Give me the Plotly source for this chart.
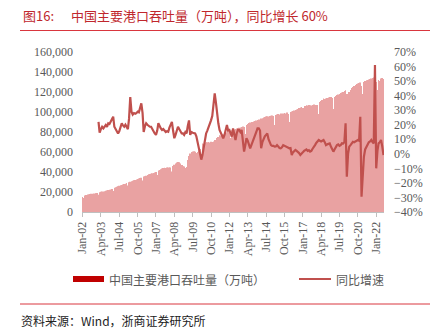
import plotly.graph_objects as go
import pandas as pd

# ---------------- data ----------------
months = pd.date_range("2002-01-01", "2022-07-01", freq="MS")
yoy_months = pd.date_range("2003-02-01", "2022-07-01", freq="MS")
tick_months = months[::15]

# 中国主要港口吞吐量（万吨）, monthly
throughput = [
    15000, 14000, 16500, 17000, 17500, 17800, 18000, 18200, 18300, 18500, 18400, 18800,   # 2002
    19000, 17200, 19800, 20200, 20400, 20600, 20800, 21200, 21500, 22000, 22200, 22600,   # 2003
    23000, 21000, 24200, 24800, 25200, 25800, 26300, 26700, 27000, 27600, 27900, 28300,   # 2004
    29000, 26500, 29800, 30300, 30800, 31200, 31700, 32000, 32500, 33000, 33400, 34000,   # 2005
    34200, 31500, 35500, 35800, 36300, 37000, 37700, 38000, 38300, 38800, 39000, 39500,   # 2006
    40000, 37000, 41500, 42000, 42800, 43500, 44000, 44200, 44000, 44500, 44400, 44800,   # 2007
    44400, 40500, 46000, 47200, 48500, 49500, 50000, 49800, 48500, 47000, 45700, 45500,   # 2008
    44000, 45000, 52000, 56000, 58500, 60000, 60500, 60700, 60300, 59000, 60000, 61500,   # 2009
    63000, 58000, 68400, 68000, 69000, 69500, 69800, 70000, 69500, 70200, 70000, 70500,   # 2010
    72000, 66000, 74000, 75000, 76700, 76500, 77000, 77500, 78000, 79000, 79500, 80000,   # 2011
    80500, 74000, 81700, 82000, 82500, 83000, 83500, 84000, 84200, 84500, 85000, 85500,   # 2012
    85000, 78000, 87000, 88000, 89000, 89500, 90000, 90000, 90500, 91000, 91500, 92000,   # 2013
    92500, 84000, 93400, 93800, 94500, 95000, 95500, 95700, 95500, 96000, 96200, 96500,   # 2014
    96000, 87000, 97000, 97500, 98000, 97500, 98400, 98000, 98400, 99000, 98500, 99500,   # 2015
    98000, 90000, 100000, 100500, 101000, 101500, 102000, 102500, 103000, 104000, 104500, 105000,  # 2016
    104000, 95000, 106000, 106700, 106500, 107000, 106700, 106500, 107000, 107500, 106700, 107000,  # 2017
    107000, 98000, 110000, 111000, 112000, 113400, 113000, 113500, 114000, 114500, 115000, 115000,  # 2018
    114000, 103000, 115000, 116000, 117000, 117500, 118000, 119000, 119500, 120000, 121000, 121700,  # 2019
    118000, 100000, 120000, 122000, 124000, 125000, 126000, 127000, 128000, 128400, 129000, 129500,  # 2020
    126000, 118000, 130000, 131000, 131700, 132000, 132500, 133000, 133400, 134000, 134500, 135000,  # 2021
    130000, 122000, 132000, 131000, 133500, 134000, 133000,                                        # 2022
]

# 同比增速 (%), monthly from Feb-03
yoy = [
    22, 14.5, 17, 18.6, 17.5, 19, 19.8, 18.5, 21, 20.5, 22,                 # 2003 (Feb-Dec)
    24, 25.5, 18.6, 17, 16, 14, 15.5, 18, 21, 19.5, 18.6, 20,               # 2004
    18.6, 17, 24, 39, 29, 27, 28, 27.5, 28, 29, 28.5, 31,                   # 2005
    34.7, 28, 15, 19, 21, 20, 19, 18.6, 18.6, 17, 15, 14,                   # 2006
    13, 16, 21, 19, 17.5, 16.4, 17, 16, 15, 15.5, 15.2, 18,                 # 2007
    20, 22, 16, 10.7, 13, 16, 18.6, 17, 15, 14, 14, 13,                     # 2008
    15, 14, 19, 23, 13, 15, 14.5, 14, 14, 12, 8, 4.9,                       # 2009
    0, -4, -1, 4.9, 9, 14, 16, 18, 20, 23, 26, 33,                          # 2010
    41.6, 35, 25.5, 21, 16.4, 14, 12, 10.7, 13, 17, 19.8, 16,               # 2011
    16.4, 14, 11.8, 17.5, 13, 9.5, 14, 16.4, 16.4, 15, 16.4, 10,            # 2012
    1.5, 6, 10.7, 9, 7, 3.8, 6, 8, 10.7, 12, 15, 17.5,                      # 2013
    17.5, 16, 3.8, 8, 10.7, 12, 13, 14, 10, 8, 6, 5.5,                      # 2014
    5.5, 4.9, 5, 6, 4.5, 4, 3.8, 4.5, 6, 5.5, 5, 4.5,                       # 2015
    4, 3.8, 4, -0.8, 1, 2, 2.6, 2, 1.5, 0.5, -0.8, 0.5,                     # 2016
    1, 2, 2.6, 3, 2, 2.5, 1.5, 2, 3.5, 4.5, 6, 7.5,                         # 2017
    8.5, 9.5, 9, 8.5, 9, 9.5, 8, 6, 6.5, 7, 7.2, 5,                         # 2018
    3, 1.5, 3, 5, 6, 6.5, 5.5, 6, 7.2, 7, 8, 21,                            # 2019
    -15.7, 0, 4.9, 6, 7, 8.3, 8, 8.5, 9, 9.5, 9, 25.5,                      # 2020
    -29.5, -12, -2, 3, 5, 7.2, 8, 8.5, 9.5, 8, 7.2, 61,                     # 2021
    -10, 2, 7.2, 8, 9.5, 5, -0.8,                                           # 2022
]

title_no = "图16:"
title_text = "中国主要港口吞吐量（万吨），同比增长 60%"
bar_name = "中国主要港口吞吐量（万吨）"
line_name = "同比增速"
source_text = "资料来源：Wind，浙商证券研究所"

# ---------------- layout helpers ----------------
W, H = 439, 335
L, R, T, B = 82, 55, 52, 123
PW, PH = W - L - R, H - T - B


def px(x):
    return (x - L) / PW


def py(y):
    return (H - B - y) / PH


CJK = "Noto Sans CJK SC"
SERIF = "Liberation Serif"
GREY = "#595959"
RED = "#c0272d"

fig = go.Figure()
fig.add_trace(go.Bar(x=months, y=throughput, marker=dict(color="#e9a2a2", line=dict(width=0)),
                     showlegend=False))
fig.add_trace(go.Scatter(x=yoy_months, y=yoy, yaxis="y2", mode="lines",
                         line=dict(color="#c0504d", width=2.2), showlegend=False))

shapes = [
    dict(type="line", xref="paper", yref="paper", x0=px(20), x1=px(430), y0=py(30.5), y1=py(30.5),
         line=dict(color="#d9363e", width=1)),
    dict(type="line", xref="paper", yref="paper", x0=px(20), x1=px(430), y0=py(304), y1=py(304),
         line=dict(color="#d9363e", width=1)),
    dict(type="rect", xref="paper", yref="paper", x0=px(73), x1=px(104), y0=py(282), y1=py(276),
         fillcolor="#c00000", line=dict(width=0)),
    dict(type="line", xref="paper", yref="paper", x0=px(299), x1=px(331), y0=py(279), y1=py(279),
         line=dict(color="#c0504d", width=2)),
]

annotations = [
    dict(text=title_no, x=px(21), y=py(15), xanchor="left", yanchor="middle",
         font=dict(family=CJK, size=13, color=RED)),
    dict(text=title_text, x=px(69), y=py(15), xanchor="left", yanchor="middle",
         font=dict(family=CJK, size=13, color=RED)),
    dict(text=bar_name, x=px(107), y=py(279), xanchor="left", yanchor="middle",
         font=dict(family=CJK, size=12, color=GREY)),
    dict(text=line_name, x=px(334), y=py(279), xanchor="left", yanchor="middle",
         font=dict(family=CJK, size=12, color=GREY)),
    dict(text=source_text, x=px(19), y=py(320), xanchor="left", yanchor="middle",
         font=dict(family=CJK, size=12, color="#222222")),
]
for a in annotations:
    a.update(xref="paper", yref="paper", showarrow=False)

fig.update_layout(
    width=W, height=H,
    margin=dict(l=L, r=R, t=T, b=B, pad=0),
    paper_bgcolor="white", plot_bgcolor="white",
    bargap=0.4,
    showlegend=False,
    shapes=shapes,
    annotations=annotations,
    xaxis=dict(
        type="date",
        range=["2001-12-17", "2022-07-14"],
        tickvals=list(tick_months),
        tickformat="%b-%y",
        tickangle=-90,
        ticks="outside", ticklen=4, tickcolor="#bfbfbf",
        showline=True, linecolor="#bfbfbf", linewidth=1,
        showgrid=False, zeroline=False,
        tickfont=dict(family=SERIF, size=12, color=GREY),
    ),
    yaxis=dict(
        range=[0, 160000], dtick=20000, tickformat=",d",
        showgrid=False, zeroline=False, showline=False,
        ticklabelstandoff=8,
        tickfont=dict(family=SERIF, size=12, color=GREY),
    ),
    yaxis2=dict(
        overlaying="y", side="right",
        range=[-40, 70], dtick=10, ticksuffix="%",
        showgrid=False, zeroline=False, showline=False,
        ticklabelstandoff=9,
        tickfont=dict(family=SERIF, size=12, color=GREY),
    ),
)

fig.write_html("out.html")
